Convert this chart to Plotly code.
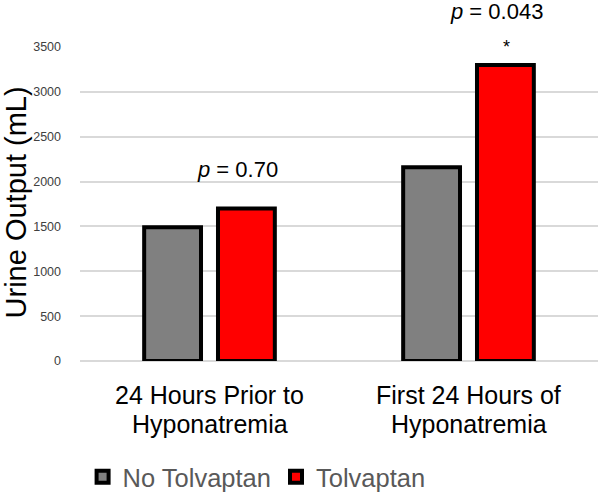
import plotly.graph_objects as go

categories = ["24 Hours Prior to<br>Hyponatremia", "First 24 Hours of<br>Hyponatremia"]
no_tolvaptan = [1490, 2160]
tolvaptan = [1700, 3300]
series_names = ["No Tolvaptan", "Tolvaptan"]
y_ticks = [0, 500, 1000, 1500, 2000, 2500, 3000, 3500]
y_max = 3500

FONT = "Liberation Sans, Arial, sans-serif"

fig = go.Figure()
fig.add_trace(go.Bar(x=categories, y=no_tolvaptan, name=series_names[0],
                     marker=dict(color="#808080", line=dict(color="black", width=4))))
fig.add_trace(go.Bar(x=categories, y=tolvaptan, name=series_names[1],
                     marker=dict(color="#ff0000", line=dict(color="black", width=4))))

# category labels drawn as two lines each
cat_font = dict(family=FONT, size=25, color="black")
for cat in categories:
    line1, line2 = cat.split("<br>")
    fig.add_annotation(x=cat, y=-0.1083, xref="x", yref="paper", text=line1,
                       showarrow=False, font=cat_font, yanchor="middle", borderpad=0)
    fig.add_annotation(x=cat, y=-0.2006, xref="x", yref="paper", text=line2,
                       showarrow=False, font=cat_font, yanchor="middle", borderpad=0)

# y axis title
fig.add_annotation(x=-0.1235, y=0.505, xref="paper", yref="paper", text="Urine Output (mL)",
                   textangle=-90, showarrow=False,
                   font=dict(family=FONT, size=29, color="black"),
                   xanchor="center", yanchor="middle", borderpad=0)

ann_font = dict(family=FONT, size=22, color="black")
fig.add_annotation(x=0.11, y=2130 / y_max, xref="x", yref="y domain", text="<i>p</i> = 0.70",
                   showarrow=False, font=ann_font, yanchor="middle")
fig.add_annotation(x=1.107, y=3900 / y_max, xref="x", yref="y domain", text="<i>p</i> = 0.043",
                   showarrow=False, font=ann_font, yanchor="middle")
fig.add_annotation(x=1.148, y=3500 / y_max, xref="x", yref="y domain", text="*",
                   showarrow=False, font=dict(family=FONT, size=18, color="black"), yanchor="middle")

fig.update_layout(
    width=600, height=494,
    margin=dict(l=80, r=2, t=47, b=133, autoexpand=False),
    paper_bgcolor="white", plot_bgcolor="white",
    barmode="group", bargap=0.43, bargroupgap=0.23,
    showlegend=True,
    legend=dict(orientation="h", x=0.005, xanchor="left", y=-0.37, yanchor="middle",
                font=dict(family=FONT, size=25.5, color="#595959"), traceorder="normal"),
    xaxis=dict(showticklabels=False, showgrid=False,
               showline=False, ticks="", range=[-0.5, 1.5]),
    yaxis=dict(range=[0, y_max], tickvals=y_ticks, showgrid=True, gridcolor="#d9d9d9",
               gridwidth=1.5, zeroline=True, zerolinecolor="#d9d9d9", zerolinewidth=1.5,
               tickfont=dict(family=FONT, size=12.5, color="#404040"), ticklabelstandoff=18),
)

fig.write_html("out.html", post_script="document.body.style.margin='0';",
               config={"displayModeBar": False})
